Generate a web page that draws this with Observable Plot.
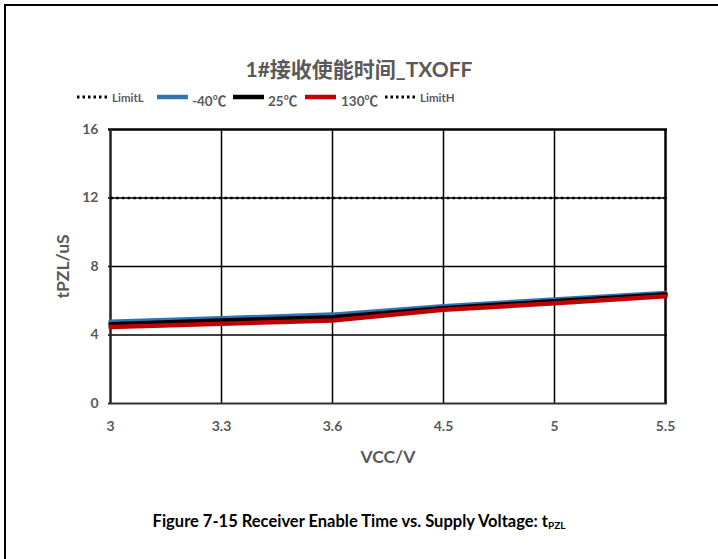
<!DOCTYPE html>
<html>
<head>
<meta charset="utf-8">
<script src="https://cdn.jsdelivr.net/npm/d3@7"></script>
<script src="https://cdn.jsdelivr.net/npm/@observablehq/plot@0.6"></script>
<style>
  html, body { margin: 0; padding: 0; background: #fff; }
  body { width: 718px; height: 559px; position: relative; overflow: hidden;
         font-family: Lato, "Noto Sans CJK SC", sans-serif; }
  #frame { position: absolute; left: 4px; top: 4px; width: 720px; height: 560px;
           border-top: 2.5px solid #000; border-left: 2.5px solid #000; }
  #title { position: absolute; left: 0; width: 718px; top: 53px; text-align: center;
           font-size: 21px; font-weight: bold; color: #595959; }
  #legend { position: absolute; left: 0; top: 84px; }
  #chart { position: absolute; left: 0; top: 110px; }
  #caption { position: absolute; left: 0; width: 718px; top: 511px; text-align: center;
             font-size: 16.5px; font-weight: bold; color: #000; }
  #caption sub { font-size: 10px; vertical-align: -2px; }
</style>
</head>
<body>
<div id="frame"></div>
<div id="title"></div>
<div id="legend"></div>
<div id="chart"></div>
<div id="caption">Figure 7-15 Receiver Enable Time vs. Supply Voltage: t<sub>PZL</sub></div>
<script>
const title = "1#接收使能时间_TXOFF";
const vcc = ["3", "3.3", "3.6", "4.5", "5", "5.5"];
const tM40 = [4.77, 4.98, 5.19, 5.68, 6.07, 6.46];
const t25 = [4.63, 4.85, 5.04, 5.56, 5.97, 6.36];
const t130 = [4.46, 4.65, 4.85, 5.47, 5.85, 6.26];
const limitH = [12, 12, 12, 12, 12, 12];
const limitL = [null, null, null, null, null, null];
const yTicks = [0, 4, 8, 12, 16];
const seriesNames = ["LimitL", "-40℃", "25℃", "130℃", "LimitH"];
const seriesColors = ["#000000", "#2E75B6", "#000000", "#C00000", "#000000"];
const seriesDotted = [true, false, false, false, true];

document.getElementById("title").textContent = title;

const seriesValues = [limitL, tM40, t25, t130, limitH];
const rows = [];
seriesNames.forEach((name, i) => {
  vcc.forEach((v, j) => {
    if (seriesValues[i][j] != null) rows.push({series: name, vcc: v, t: seriesValues[i][j]});
  });
});

const gray = "#595959";
const lineMarks = [];
seriesNames.forEach((name, i) => {
  const d = rows.filter(r => r.series === name);
  if (!d.length) return;
  if (seriesDotted[i]) {
    lineMarks.push(Plot.line(d, {x: "vcc", y: "t", stroke: seriesColors[i], strokeWidth: 2.5,
      strokeDasharray: "2.5,3.2", strokeLinecap: "butt"}));
  } else {
    lineMarks.push(Plot.line(d, {x: "vcc", y: "t", stroke: seriesColors[i], strokeWidth: 4.5,
      strokeLinejoin: "round"}));
  }
});

const chart = Plot.plot({
  width: 718,
  height: 370,
  marginLeft: 108,
  marginRight: 51,
  marginTop: 19,
  marginBottom: 77,
  style: {fontFamily: "Lato, 'Noto Sans CJK SC', sans-serif", fontSize: "14px", fontWeight: "bold", color: gray, background: "transparent"},
  x: {type: "point", domain: vcc, padding: 0},
  y: {domain: [0, 16]},
  marks: [
    Plot.ruleY([4, 8, 12], {stroke: "#000", strokeWidth: 1.5}),
    Plot.ruleX(vcc.slice(1, -1), {stroke: "#000", strokeWidth: 1.5}),
    Plot.ruleY([16], {stroke: "#000", strokeWidth: 2.5}),
    Plot.ruleX([vcc[vcc.length - 1]], {stroke: "#000", strokeWidth: 2.5}),
    Plot.ruleX([vcc[0]], {stroke: "#222", strokeWidth: 2.5}),
    Plot.ruleY([0], {stroke: "#333", strokeWidth: 2}),
    Plot.axisY(yTicks, {tickSize: 0, tickPadding: 10, fill: gray, fontSize: 14, fontWeight: "bold",
      label: "tPZL/uS", labelAnchor: "center", labelArrow: "none", labelOffset: 52}),
    Plot.axisX({tickSize: 0, tickPadding: 18, fill: gray, fontSize: 14, fontWeight: "bold",
      label: "VCC/V", labelAnchor: "center", labelArrow: "none", labelOffset: 59}),
    ...lineMarks
  ]
});
chart.querySelectorAll("g[aria-label='y-axis label'] text, g[aria-label='x-axis label'] text").forEach(t => {
  t.setAttribute("font-size", "17.5");
});
document.getElementById("chart").appendChild(chart);

// legend
const legendItems = [
  {x: 77, tx: 112, ty: 18, fs: 11.5},
  {x: 157, tx: 192, ty: 22, fs: 13.5},
  {x: 233, tx: 268, ty: 22, fs: 13.5},
  {x: 305, tx: 341, ty: 22, fs: 13.5},
  {x: 385, tx: 420, ty: 18, fs: 11.5}
];
const lsvg = d3.select("#legend").append("svg").attr("width", 718).attr("height", 26);
seriesNames.forEach((name, i) => {
  const it = legendItems[i];
  lsvg.append("line").attr("x1", it.x).attr("x2", it.x + 31).attr("y1", 13).attr("y2", 13)
    .attr("stroke", seriesColors[i])
    .attr("stroke-width", seriesDotted[i] ? 2.8 : 4.5)
    .attr("stroke-dasharray", seriesDotted[i] ? "2.5,3" : null);
  lsvg.append("text").attr("x", it.tx).attr("y", it.ty).text(name)
    .attr("font-size", it.fs).attr("font-weight", "bold").attr("fill", gray)
    .attr("font-family", "Lato, 'Noto Sans CJK SC', sans-serif");
});
</script>
</body>
</html>
